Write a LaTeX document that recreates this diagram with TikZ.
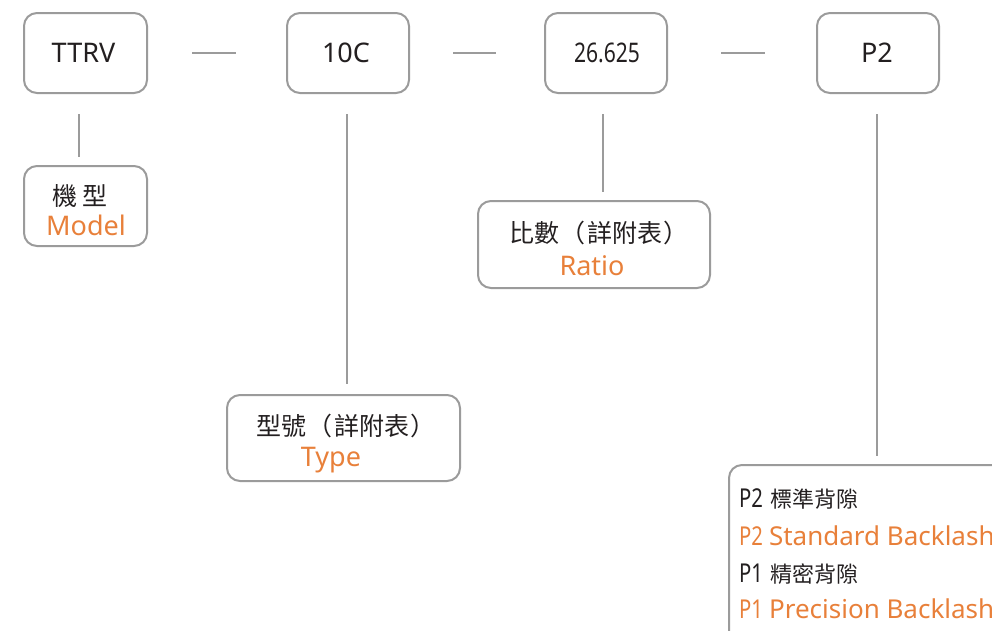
\documentclass[tikz,border=0pt]{standalone}
\usepackage{fontspec}
\setmainfont{Noto Sans}
\newfontfamily\cjk{Noto Sans CJK TC}
\usepackage{graphicx}
\definecolor{boxgrey}{HTML}{9B9B9B}
\definecolor{txtblack}{HTML}{231F20}
\definecolor{orng}{HTML}{E8803A}
\newcommand{\lp}{\hspace{1.5pt}（\hspace{1.5pt}}
\newcommand{\rp}{\hspace{1.5pt}）}
\begin{document}
\begin{tikzpicture}[x=1pt,y=-1pt,
  box/.style={draw=boxgrey,line width=2pt,rounded corners=13pt,rectangle,inner sep=0pt},
  conn/.style={draw=boxgrey,line width=2pt},
  lat/.style={font=\fontsize{27}{30}\selectfont,text=txtblack,inner sep=0pt,anchor=base},
  han/.style={font=\cjk\fontsize{25}{28}\selectfont,text=txtblack,inner sep=0pt,anchor=base},
  eng/.style={font=\fontsize{27}{30}\selectfont,text=orng,inner sep=0pt,anchor=base},
  btxt/.style={font=\fontsize{26}{28}\selectfont,inner sep=0pt,anchor=base west}]
\useasboundingbox (0,0) rectangle (992,630);
\clip (0,0) rectangle (992,630);
% top boxes
\node[box,minimum width=123pt,minimum height=80pt] (ttrv) at (85.5,53) {};
\node[box,minimum width=122pt,minimum height=80pt] (tenc) at (348,53) {};
\node[box,minimum width=122pt,minimum height=80pt] (ratio) at (606,53) {};
\node[box,minimum width=122pt,minimum height=80pt] (ptwo) at (878,53) {};
% lower boxes
\node[box,minimum width=123pt,minimum height=80pt] (model) at (85.5,206) {};
\node[box,minimum width=233pt,minimum height=86pt] (type) at (343.5,438) {};
\node[box,minimum width=232pt,minimum height=87pt] (ratiob) at (594,244.5) {};
\node[box,minimum width=290pt,minimum height=200pt] (back) at (874,565) {};
% texts top
\node[lat] (t1) at (83.5,62) {TTRV};
\node[lat] (t2) at (346,62) {10C};
\node[lat] (t3) at (607,62) {\scalebox{0.78}[1]{26.625}};
\node[lat] (t4) at (877,62) {P2};
% model
\node[han] (m1) at (80,205) {機\hspace{5pt}型};
\node[eng] (m2) at (86,235) {Model};
% ratio
\node[han] (r1) at (599,242) {比數\lp 詳附表\rp};
\node[eng] (r2) at (592,275) {Ratio};
% type
\node[han] (y1) at (346,435) {型號\lp 詳附表\rp};
\node[eng] (y2) at (331,466) {Type};
% backlash
\node[btxt,text=txtblack] (b1) at (739,507) {\scalebox{0.78}[1]{P2}\hspace{7pt}{\cjk\fontsize{22}{24}\selectfont 標準背隙}};
\node[btxt,text=orng] (b2) at (739,545) {\scalebox{0.78}[1]{P2}\hspace{6pt}Standard Backlash};
\node[btxt,text=txtblack] (b3) at (739,582) {\scalebox{0.78}[1]{P1}\hspace{7pt}{\cjk\fontsize{22}{24}\selectfont 精密背隙}};
\node[btxt,text=orng] (b4) at (739,618) {\scalebox{0.78}[1]{P1}\hspace{6pt}Precision Backlash};
% horizontal connectors
\draw[conn,shorten <=44pt,shorten >=50pt] (ttrv.east) -- (tenc.west);
\draw[conn,shorten <=43pt,shorten >=48pt] (tenc.east) -- (ratio.west);
\draw[conn,shorten <=53pt,shorten >=51pt] (ratio.east) -- (ptwo.west);
% vertical connectors
\draw[conn,shorten <=20pt,shorten >=8pt] ([xshift=-6.5pt]ttrv.south) -- ([xshift=-6.5pt]model.north);
\draw[conn,shorten <=20pt,shorten >=10pt] ([xshift=-1pt]tenc.south) -- ([xshift=-1pt]tenc.south |- type.north);
\draw[conn,shorten <=20pt,shorten >=8pt] ([xshift=-3pt]ratio.south) -- ([xshift=-3pt]ratio.south |- ratiob.north);
\draw[conn,shorten <=20pt,shorten >=8pt] ([xshift=-1pt]ptwo.south) -- ([xshift=-1pt]ptwo.south |- back.north);
\end{tikzpicture}
\end{document}
